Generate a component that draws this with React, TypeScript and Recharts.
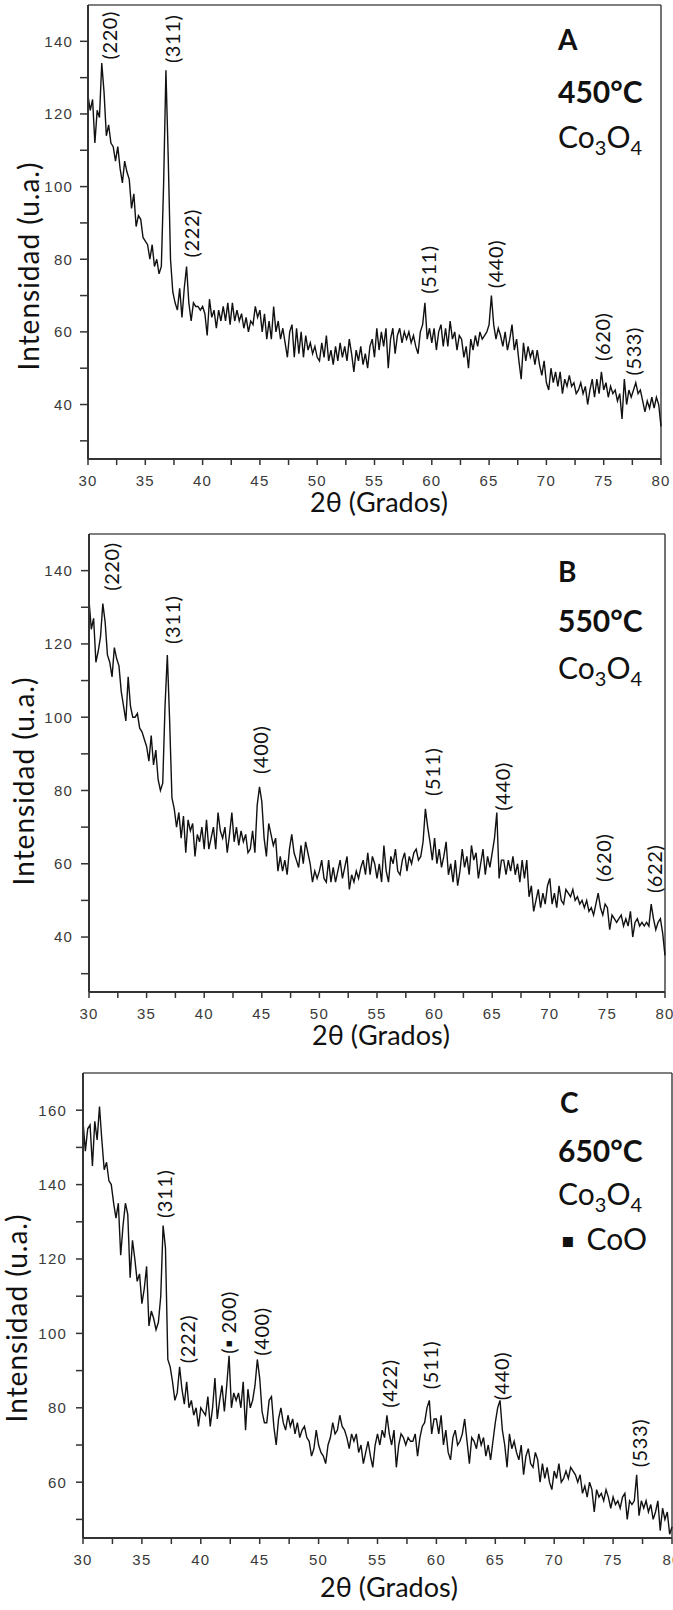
import { LineChart, Line, XAxis, YAxis, ReferenceLine, ReferenceDot } from 'recharts';

// XRD scans, 0.2 degree step from 30 to 80 (2theta)
const SCAN_START = 30;
const SCAN_STEP = 0.2;

const X_TICKS = [30, 32.5, 35, 37.5, 40, 42.5, 45, 47.5, 50, 52.5, 55, 57.5, 60, 62.5, 65, 67.5, 70, 72.5, 75, 77.5, 80];
const Y_TICKS_AB = [30, 40, 50, 60, 70, 80, 90, 100, 110, 120, 130, 140];
const Y_TICKS_C = [50, 60, 70, 80, 90, 100, 110, 120, 130, 140, 150, 160];
const Y_DOMAIN_AB: [number, number] = [25, 150];
const Y_DOMAIN_C: [number, number] = [45, 170];

const INTENSITY_450 = [
  125, 121, 124, 112, 121, 119, 134, 126, 114, 117,
  112, 111, 107, 111, 105, 101, 107, 104, 102, 94,
  98, 89, 92, 91, 86, 85, 84, 80, 84, 78,
  80, 76, 78, 101, 132, 108, 80, 71, 68, 66,
  72, 64, 72, 78, 68, 63, 68, 67, 67, 66,
  67, 65, 59, 69, 64, 66, 61, 66, 63, 67,
  63, 68, 62, 68, 63, 66, 63, 65, 61, 64,
  60, 63, 62, 67, 64, 66, 60, 65, 58, 63,
  58, 67, 60, 63, 58, 61, 57, 53, 60, 62,
  53, 61, 54, 60, 53, 59, 55, 57, 54, 56,
  53, 52, 57, 53, 59, 52, 55, 51, 56, 52,
  57, 53, 56, 52, 58, 54, 49, 55, 52, 56,
  51, 54, 50, 56, 58, 53, 61, 55, 60, 56,
  61, 50, 58, 61, 54, 59, 61, 57, 60, 58,
  60, 57, 59, 56, 54, 60, 62, 68, 58, 61,
  57, 61, 55, 60, 62, 56, 61, 56, 63, 58,
  60, 55, 59, 58, 53, 56, 50, 58, 55, 59,
  56, 60, 58, 59, 60, 62, 70, 62, 58, 61,
  59, 56, 60, 55, 58, 62, 55, 58, 52, 47,
  57, 52, 56, 53, 55, 51, 55, 51, 48, 52,
  46, 44, 50, 46, 49, 45, 49, 43, 47, 45,
  48, 45, 46, 43, 44, 46, 43, 45, 40, 44,
  47, 42, 47, 43, 49, 44, 46, 42, 45, 43,
  44, 41, 43, 36, 47, 40, 44, 42, 44, 46,
  43, 44, 41, 38, 41, 39, 42, 39, 42, 40,
  34,
];

const INTENSITY_550 = [
  132, 124, 127, 115, 118, 122, 131, 126, 117, 115,
  111, 119, 116, 114, 107, 103, 99, 111, 103, 100,
  100, 101, 97, 96, 94, 92, 88, 95, 87, 91,
  83, 80, 82, 103, 117, 99, 78, 75, 70, 74,
  67, 73, 63, 72, 69, 71, 62, 68, 66, 70,
  64, 72, 64, 67, 70, 64, 74, 69, 67, 70,
  63, 68, 74, 66, 70, 65, 69, 66, 68, 63,
  64, 69, 63, 76, 81, 77, 67, 62, 71, 68,
  65, 67, 58, 62, 58, 61, 57, 64, 68, 63,
  61, 59, 65, 60, 66, 63, 60, 55, 58, 56,
  58, 61, 56, 55, 61, 55, 59, 55, 58, 61,
  56, 59, 62, 53, 57, 55, 58, 56, 59, 61,
  57, 63, 57, 62, 60, 56, 60, 55, 65, 58,
  55, 62, 60, 64, 58, 57, 61, 63, 58, 62,
  60, 63, 64, 61, 62, 66, 75, 70, 66, 61,
  67, 60, 64, 59, 62, 66, 57, 60, 55, 61,
  54, 58, 64, 59, 62, 57, 65, 61, 63, 56,
  60, 64, 57, 62, 59, 63, 67, 74, 56, 61,
  61, 57, 61, 58, 62, 57, 60, 55, 61, 56,
  61, 51, 54, 47, 50, 53, 48, 52, 49, 54,
  56, 49, 52, 48, 54, 50, 49, 53, 52, 51,
  53, 50, 51, 49, 50, 48, 50, 47, 48, 46,
  49, 52, 48, 46, 49, 48, 42, 46, 45, 44,
  45, 46, 43, 45, 43, 47, 40, 44, 45, 43,
  44, 43, 44, 43, 49, 45, 42, 44, 45, 41,
  35,
];

const INTENSITY_650 = [
  157, 149, 155, 156, 145, 157, 152, 161, 152, 144,
  146, 141, 140, 135, 131, 135, 121, 129, 135, 132,
  115, 125, 120, 114, 116, 108, 112, 118, 102, 106,
  104, 101, 103, 110, 129, 123, 93, 91, 87, 82,
  84, 91, 85, 81, 87, 80, 82, 78, 80, 75,
  80, 79, 78, 83, 75, 80, 88, 77, 82, 86,
  79, 86, 94, 80, 84, 82, 84, 80, 87, 74,
  85, 80, 82, 86, 93, 88, 79, 76, 76, 82,
  83, 75, 70, 77, 80, 76, 74, 78, 75, 77,
  73, 76, 72, 74, 75, 72, 71, 67, 69, 74,
  70, 68, 67, 65, 70, 72, 76, 73, 74, 78,
  75, 74, 72, 69, 73, 71, 73, 68, 70, 65,
  68, 71, 67, 64, 70, 73, 70, 74, 72, 78,
  73, 70, 74, 64, 70, 73, 72, 70, 72, 71,
  71, 73, 67, 72, 75, 76, 80, 82, 73, 77,
  77, 73, 78, 70, 74, 68, 66, 72, 74, 70,
  71, 73, 77, 71, 65, 72, 71, 69, 73, 70,
  72, 67, 70, 66, 71, 76, 80, 82, 74, 70,
  64, 73, 69, 71, 68, 66, 70, 62, 67, 69,
  65, 64, 68, 66, 60, 65, 61, 64, 60, 58,
  63, 61, 65, 60, 61, 63, 61, 64, 63, 62,
  60, 62, 57, 59, 56, 60, 58, 52, 58, 56,
  57, 55, 58, 56, 53, 56, 54, 55, 53, 56,
  57, 50, 55, 54, 55, 62, 51, 55, 53, 55,
  52, 54, 50, 52, 55, 47, 53, 50, 52, 46,
  48,
];

// Miller index labels: angle of the label and the intensity where the text starts
const PEAKS_450 = [
  { hkl: '(220)', angle: 31.85, at: 135 },
  { hkl: '(311)', angle: 37.3, at: 134 },
  { hkl: '(222)', angle: 39.0, at: 80.5 },
  { hkl: '(511)', angle: 59.65, at: 70.5 },
  { hkl: '(440)', angle: 65.5, at: 72 },
  { hkl: '(620)', angle: 74.85, at: 52 },
  { hkl: '(533)', angle: 77.55, at: 48 },
];
const PEAKS_550 = [
  { hkl: '(220)', angle: 31.9, at: 134.5 },
  { hkl: '(311)', angle: 37.2, at: 120 },
  { hkl: '(400)', angle: 44.85, at: 84.5 },
  { hkl: '(511)', angle: 59.75, at: 78.5 },
  { hkl: '(440)', angle: 65.85, at: 74.5 },
  { hkl: '(620)', angle: 74.6, at: 55 },
  { hkl: '(622)', angle: 79.05, at: 52 },
];
const PEAKS_650 = [
  { hkl: '(311)', angle: 36.85, at: 131 },
  { hkl: '(222)', angle: 38.8, at: 92 },
  { hkl: '(\u25AA 200)', angle: 42.3, at: 94.5 },
  { hkl: '(400)', angle: 45.1, at: 94 },
  { hkl: '(422)', angle: 55.95, at: 80 },
  { hkl: '(511)', angle: 59.45, at: 85 },
  { hkl: '(440)', angle: 65.5, at: 82 },
  { hkl: '(533)', angle: 77.2, at: 64 },
];

const LETTERS = ['A', 'B', 'C'];
const TEMPERATURES = ['450°C', '550°C', '650°C'];

const TEXT_FONT = 'Lato, "Noto Sans", sans-serif';
const TICK_FONT = '"Liberation Sans", Arial, sans-serif';

const toRows = (values: number[]) =>
  values.map((v, i) => ({ angle: +(SCAN_START + i * SCAN_STEP).toFixed(1), intensity: v }));

type Peak = { hkl: string; angle: number; at: number };

function PeakText({ cx, cy, text }: any) {
  if (cx == null || cy == null) return null;
  return (
    <text
      x={cx}
      y={cy}
      transform={`rotate(-90 ${cx} ${cy})`}
      textAnchor="start"
      dominantBaseline="central"
      fontFamily={TEXT_FONT}
      fontSize={20}
      letterSpacing={0.6}
      fill="#111"
    >
      {text}
    </text>
  );
}

function Panel({
  top,
  height,
  margin,
  values,
  peaks,
  yDomain,
  yTicks,
  yTickSize,
  yTickMargin,
}: {
  top: number;
  height: number;
  margin: { top: number; right: number; bottom: number; left: number };
  values: number[];
  peaks: Peak[];
  yDomain: [number, number];
  yTicks: number[];
  yTickSize: number;
  yTickMargin: number;
}) {
  const tick = { fill: '#3a3a3a', fontSize: 15, fontFamily: TICK_FONT, letterSpacing: 1.2 };
  return (
    <div style={{ position: 'absolute', left: 0, top }}>
      <LineChart width={673} height={height} data={toRows(values)} margin={margin}>
        <XAxis
          dataKey="angle"
          type="number"
          domain={[30, 80]}
          ticks={X_TICKS}
          interval={0}
          height={30}
          tickSize={6}
          tickMargin={10}
          tick={tick}
          tickFormatter={(v: number) => (v % 5 === 0 ? String(v) : '')}
          axisLine={{ stroke: '#333', strokeWidth: 2 }}
          tickLine={{ stroke: '#333', strokeWidth: 1.5 }}
        />
        <YAxis
          type="number"
          domain={yDomain}
          ticks={yTicks}
          interval={0}
          width={60}
          tickSize={yTickSize}
          tickMargin={yTickMargin}
          tick={tick}
          tickFormatter={(v: number) => (v % 20 === 0 ? String(v) : '')}
          axisLine={{ stroke: '#333', strokeWidth: 2 }}
          tickLine={{ stroke: '#333', strokeWidth: 1.5 }}
        />
        <ReferenceLine y={yDomain[1]} stroke="#555" strokeWidth={1.5} />
        <ReferenceLine x={80} stroke="#444" strokeWidth={1.5} />
        <Line
          type="linear"
          dataKey="intensity"
          stroke="#111"
          strokeWidth={1.4}
          dot={false}
          isAnimationActive={false}
        />
        {peaks.map((p) => (
          <ReferenceDot
            key={p.hkl}
            x={p.angle}
            y={p.at}
            r={0}
            shape={(props: any) => <PeakText {...props} text={p.hkl} />}
          />
        ))}
      </LineChart>
    </div>
  );
}

function Formula({ x, y }: { x: number; y: number }) {
  return (
    <text x={x} y={y} fontFamily={TEXT_FONT} fontSize={30} fill="#111">
      Co
      <tspan fontSize={20} dy={7}>3</tspan>
      <tspan dy={-7}>O</tspan>
      <tspan fontSize={20} dy={7}>4</tspan>
    </text>
  );
}

function YTitle({ x, y }: { x: number; y: number }) {
  return (
    <text
      x={x}
      y={y}
      transform={`rotate(-90 ${x} ${y})`}
      textAnchor="middle"
      dominantBaseline="central"
      fontFamily={TEXT_FONT}
      fontSize={28}
      letterSpacing={1}
      fill="#111"
    >
      Intensidad (u.a.)
    </text>
  );
}

function XTitle({ x, y }: { x: number; y: number }) {
  return (
    <text x={x} y={y} textAnchor="middle" fontFamily={TEXT_FONT} fontSize={27} fill="#111">
      2θ (Grados)
    </text>
  );
}

export default function App() {
  return (
    <div style={{ position: 'absolute', left: 0, top: 0, width: 673, height: 1610, background: '#fff', overflow: 'hidden' }}>
      <Panel
        top={0}
        height={525}
        margin={{ top: 5, right: 12, bottom: 36, left: 28 }}
        values={INTENSITY_450}
        peaks={PEAKS_450}
        yDomain={Y_DOMAIN_AB}
        yTicks={Y_TICKS_AB}
        yTickSize={8}
        yTickMargin={7}
      />
      <Panel
        top={525}
        height={525}
        margin={{ top: 9, right: 8, bottom: 28, left: 29 }}
        values={INTENSITY_550}
        peaks={PEAKS_550}
        yDomain={Y_DOMAIN_AB}
        yTicks={Y_TICKS_AB}
        yTickSize={8}
        yTickMargin={8}
      />
      <Panel
        top={1050}
        height={560}
        margin={{ top: 23, right: 1, bottom: 42, left: 23 }}
        values={INTENSITY_650}
        peaks={PEAKS_650}
        yDomain={Y_DOMAIN_C}
        yTicks={Y_TICKS_C}
        yTickSize={7}
        yTickMargin={9}
      />
      <svg width={673} height={1610} style={{ position: 'absolute', left: 0, top: 0, pointerEvents: 'none' }}>
        <text x={558} y={50} fontFamily={TEXT_FONT} fontWeight={700} fontSize={28} fill="#111">{LETTERS[0]}</text>
        <text x={558} y={103} fontFamily={TEXT_FONT} fontWeight={700} fontSize={30} fill="#111">{TEMPERATURES[0]}</text>
        <Formula x={558} y={148} />

        <text x={558} y={582} fontFamily={TEXT_FONT} fontWeight={700} fontSize={28} fill="#111">{LETTERS[1]}</text>
        <text x={558} y={632} fontFamily={TEXT_FONT} fontWeight={700} fontSize={30} fill="#111">{TEMPERATURES[1]}</text>
        <Formula x={558} y={679} />

        <text x={560} y={1113} fontFamily={TEXT_FONT} fontWeight={700} fontSize={28} fill="#111">{LETTERS[2]}</text>
        <text x={558} y={1162} fontFamily={TEXT_FONT} fontWeight={700} fontSize={30} fill="#111">{TEMPERATURES[2]}</text>
        <Formula x={558} y={1205} />
        <text x={561} y={1250} fontFamily={TEXT_FONT} fontSize={30} fill="#111">
          <tspan fontFamily='"DejaVu Sans", sans-serif' fontSize={20} dy={-3}>{'\u25AA'}</tspan>
          <tspan dx={12} dy={3}>CoO</tspan>
        </text>

        <YTitle x={28} y={266} />
        <YTitle x={23} y={781} />
        <YTitle x={16} y={1318} />
        <XTitle x={379} y={512} />
        <XTitle x={381} y={1045} />
        <XTitle x={389} y={1597} />
      </svg>
    </div>
  );
}
